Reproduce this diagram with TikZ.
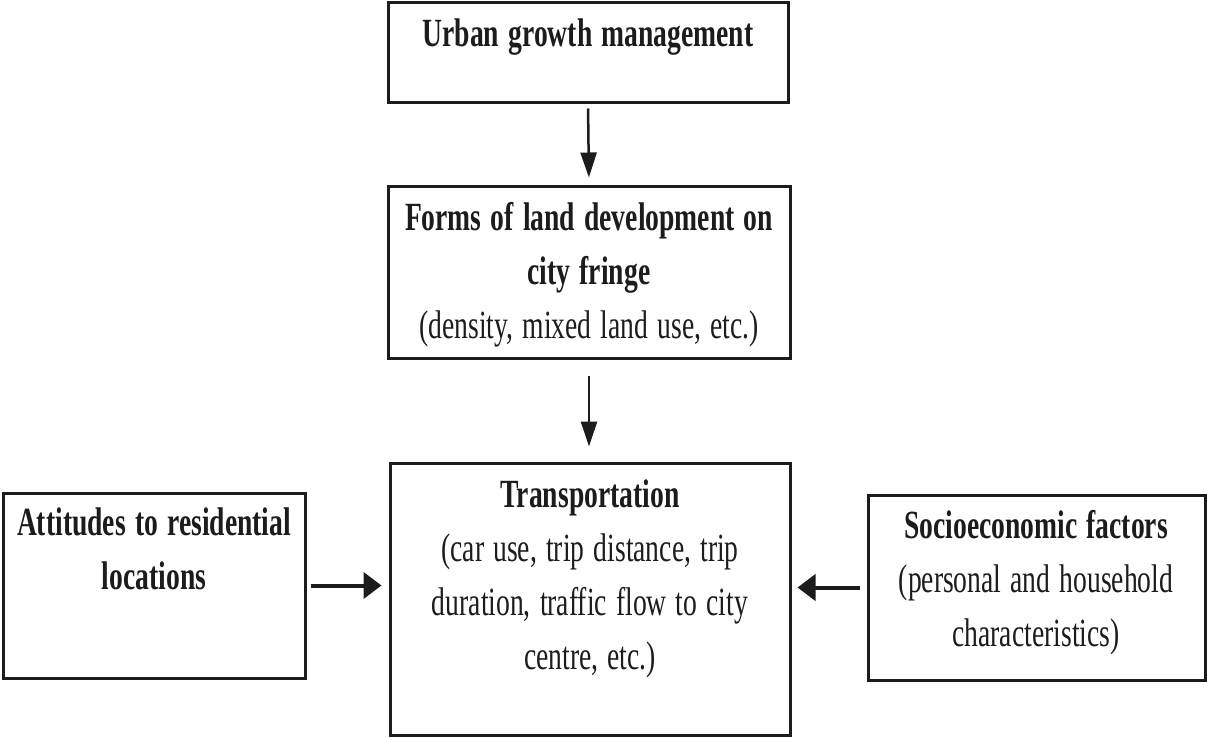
\documentclass[tikz,border=0pt]{standalone}
\usepackage{fontspec}
\usepackage{graphicx}
\usetikzlibrary{arrows.meta}
\newfontfamily\diagfont{Liberation Serif}
\definecolor{ink}{RGB}{28,28,28}
% narrow a line of text horizontally
\newcommand\narrowline[1]{\scalebox{0.69}[1]{#1}}
\newcommand\narrowbold[1]{\scalebox{0.69}[1]{\bfseries #1}}
\begin{document}
\begin{tikzpicture}[x=1pt,y=-1pt,
  box/.style={draw=ink, line width=3pt, rectangle, inner sep=0pt},
  txt/.style={anchor=base, align=center, inner sep=0pt, text=ink,
              font=\diagfont\fontsize{40}{54}\selectfont},
  vflow/.style={draw=ink, line width=2.5pt, -{Triangle[length=25pt,width=16pt]}},
  hflow/.style={draw=ink, line width=4pt, -{Triangle[length=18pt,width=26pt]}}]
  \useasboundingbox (0,0) rectangle (1207,738);

  % boxes
  \node[box, minimum width=400pt, minimum height=100pt] (top)   at (588,53) {};
  \node[box, minimum width=402pt, minimum height=171pt] (mid)   at (589,272.5) {};
  \node[box, minimum width=400pt, minimum height=272pt] (trans) at (590,599) {};
  \node[box, minimum width=302pt, minimum height=185pt] (left)  at (154,585.5) {};
  \node[box, minimum width=337pt, minimum height=185pt] (right) at (1036.5,587.5) {};

  % box texts
  \node[txt, text width=390pt] (toptext) at (588,47) {\narrowbold{Urban growth management}};
  \node[txt, text width=392pt] (midtext) at (589,230)
    {\narrowbold{Forms of land development on}\\ \narrowbold{city fringe}\\
     \narrowline{(density, mixed land use, etc.)}};
  \node[txt, text width=390pt] (transtext) at (590,507)
    {\narrowbold{Transportation}\\ \narrowline{(car use, trip distance, trip}\\
     \narrowline{duration, traffic flow to city}\\ \narrowline{centre, etc.)}};
  \node[txt, text width=296pt] (lefttext) at (154,535)
    {\narrowbold{Attitudes to residential}\\ \narrowbold{locations}};
  \node[txt, text width=330pt] (righttext) at (1036,538)
    {\narrowbold{Socioeconomic factors}\\ \narrowline{(personal and household}\\
     \narrowline{characteristics)}};

  % connectors
  \draw[vflow, shorten <=4pt, shorten >=8pt] (top.south) -- (mid.north);
  \draw[vflow, shorten <=16pt, shorten >=15pt] (mid.south) -- (mid.south |- trans.north);
  \draw[hflow, shorten <=4pt, shorten >=7pt] (left.east) -- (left.east -| trans.west);
  \draw[hflow, shorten <=7pt, shorten >=6pt] (right.west) -- (right.west -| trans.east);
\end{tikzpicture}
\end{document}
